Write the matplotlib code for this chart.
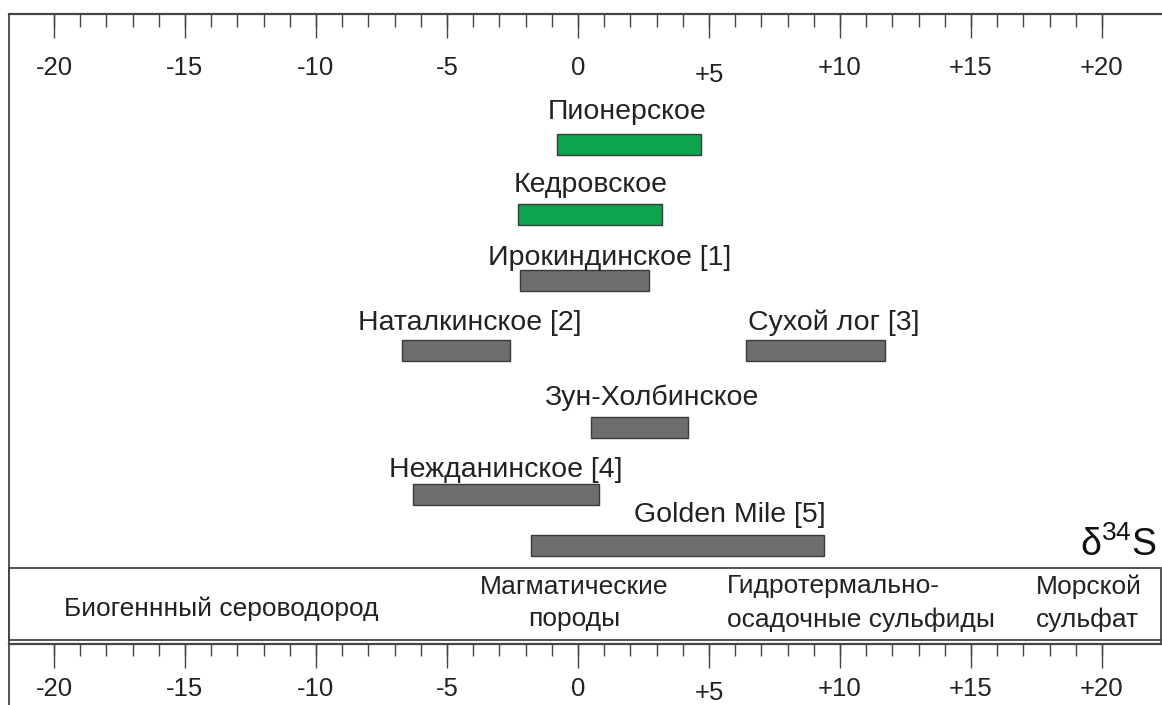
import matplotlib.pyplot as plt
from matplotlib.patches import Rectangle

plt.rcParams['font.family'] = ['Liberation Sans', 'DejaVu Sans']
plt.rcParams['mathtext.fontset'] = 'custom'
plt.rcParams['mathtext.rm'] = 'Liberation Sans'
plt.rcParams['mathtext.it'] = 'Liberation Sans:italic'

# delta34S ranges, permille
deposits = ['Пионерское', 'Кедровское', 'Ирокиндинское [1]', 'Наталкинское [2]',
            'Сухой лог [3]', 'Зун-Холбинское', 'Нежданинское [4]', 'Golden Mile [5]']
d34s_min = [-0.8, -2.3, -2.2, -6.7, 6.4, 0.5, -6.3, -1.8]
d34s_max = [4.7, 3.2, 2.7, -2.6, 11.7, 4.2, 0.8, 9.4]
is_new = [True, True, False, False, False, False, False, False]

tick_values = [-20, -15, -10, -5, 0, 5, 10, 15, 20]
tick_labels = ['-20', '-15', '-10', '-5', '0', '+5', '+10', '+15', '+20']
minor_values = list(range(-20, 21))

sources = ['Биогеннный сероводород', 'Магматические\nпороды',
           'Гидротермально-\nосадочные сульфиды', 'Морской\nсульфат']

# layout (pixels from the top of the figure)
W, H = 1162, 705
X0_PX = 578
PX_PER_UNIT = 26.2
bar_rows = [144.5, 214, 280.5, 350.5, 350.5, 427.5, 494, 545.5]
label_rows = [112, 185, 258, 323, 323, 398, 470, 515]
label_cx = [627, 591, 610, 470, 834, 651, 506, 729.5]
BAR_H = 21
GREEN = '#0ea34f'
GREY = '#6e6e6e'
EDGE = '#3a3a3a'
LINE = '#454545'
TXT = '#222222'


def px2x(px):
    return (px - X0_PX) / PX_PER_UNIT


def main():
    fig = plt.figure(figsize=(W / 100, H / 100), dpi=100)
    ax = fig.add_axes([0, 0, 1, 1])
    ax.set_xlim(px2x(0), px2x(W))
    ax.set_ylim(H, 0)
    ax.axis('off')

    left = px2x(9)
    right = px2x(1161)

    # frame
    ax.plot([left, right + 2], [14, 14], color=LINE, lw=1.6)
    ax.plot([left, left], [14, H], color=LINE, lw=1.3)

    # top scale
    ax.vlines(minor_values, 14, 27, color=LINE, lw=1.0)
    ax.vlines(tick_values, 14, 38, color=LINE, lw=1.0)
    # bottom scale
    ax.vlines(minor_values, 644, 656, color=LINE, lw=1.0)
    ax.vlines(tick_values, 644, 668, color=LINE, lw=1.0)
    for v, lab in zip(tick_values, tick_labels):
        plus5 = lab == '+5'
        ax.text(v, 68 + (7 if plus5 else 0), lab, ha='center', va='center',
                fontsize=18.5, color=TXT)
        ax.text(v, 689 + (4 if plus5 else 0), lab, ha='center', va='center',
                fontsize=18.5, color=TXT)

    # bars
    for i, name in enumerate(deposits):
        color = GREEN if is_new[i] else GREY
        ax.barh(bar_rows[i], d34s_max[i] - d34s_min[i], left=d34s_min[i],
                height=BAR_H, color=color, edgecolor=EDGE, lw=1.0)
        ax.text(px2x(label_cx[i]), label_rows[i], name, ha='center', va='center',
                fontsize=20.5, color=TXT)

    ax.text(px2x(1118), 545, r'$\mathregular{\delta^{34}S}$', ha='center', va='center',
            fontsize=27, color='#111111')

    # source band
    ax.add_patch(Rectangle((left, 568), right - left, 72, fill=False,
                           edgecolor=LINE, lw=1.3))
    ax.plot([left, right], [644, 644], color=LINE, lw=1.6)
    ax.plot([right, right], [640, 644], color=LINE, lw=1.3)

    ax.text(px2x(221), 609, sources[0], ha='center', va='center', fontsize=19, color=TXT)
    ax.text(px2x(574), 603, sources[1], ha='center', va='center', fontsize=19,
            color=TXT, linespacing=1.45)
    ax.text(px2x(727), 603, sources[2], ha='left', va='center', fontsize=19,
            color=TXT, linespacing=1.45)
    ax.text(px2x(1036), 603, sources[3], ha='left', va='center', fontsize=19,
            color=TXT, linespacing=1.45)

    fig.savefig('out.png', dpi=100, facecolor='white')


if __name__ == '__main__':
    main()
